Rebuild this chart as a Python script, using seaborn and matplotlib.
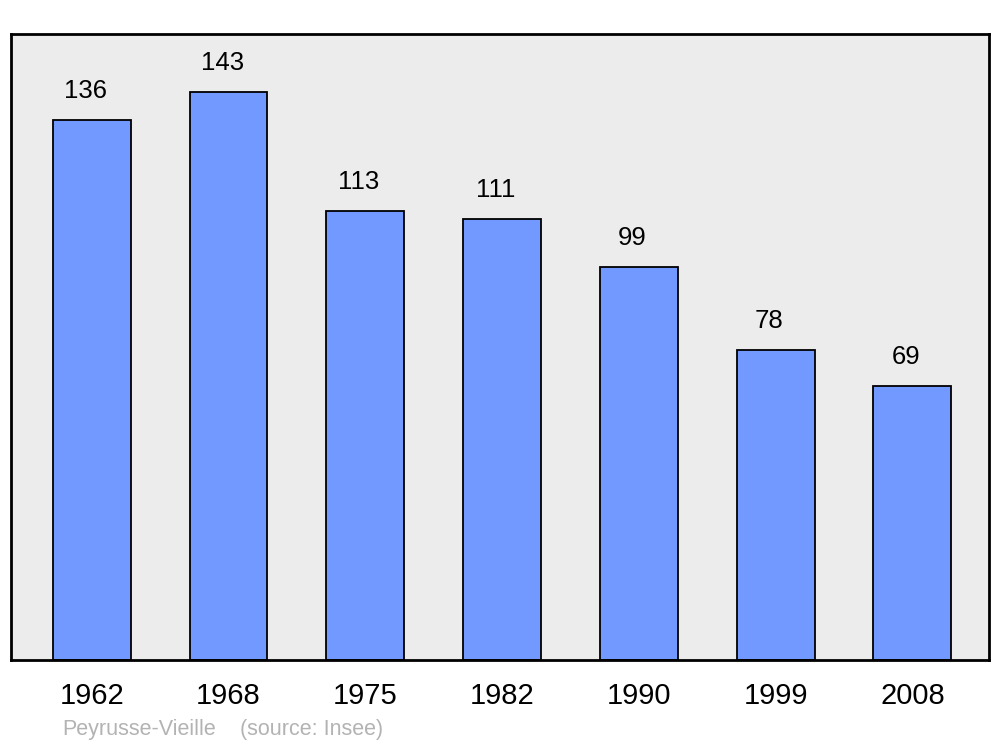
import matplotlib
matplotlib.use("Agg")
import matplotlib.pyplot as plt
import seaborn as sns
import pandas as pd

years = ["1962", "1968", "1975", "1982", "1990", "1999", "2008"]
population = [136, 143, 113, 111, 99, 78, 69]
place = "Peyrusse-Vieille"
source = "(source: Insee)"

sns.set_style("white")
plt.rcParams['font.family'] = ['Liberation Sans', 'DejaVu Sans']

df = pd.DataFrame({"year": years, "pop": population})

fig = plt.figure(figsize=(10, 7.47), dpi=100)
ax = fig.add_axes([0.011, 0.1165, 0.978, 0.838])
ax.set_facecolor("#ececec")

sns.barplot(data=df, x="year", y="pop", color="#7299ff", saturation=1,
            width=0.57, edgecolor="black", linewidth=1.3, ax=ax)

# value labels sit a little left of the bar centre, like the original
for bar, v in zip(ax.patches, population):
    ax.annotate(str(v), (bar.get_x() + bar.get_width() / 2, bar.get_height()),
                xytext=(-4.5, 12), textcoords="offset points",
                ha="center", va="bottom", fontsize=18.5, color="black")

ax.set_xlim(-0.59, 6.56)
ax.set_ylim(0, 157.6)
ax.set_xlabel("")
ax.set_ylabel("")
ax.set_yticks([])
ax.tick_params(axis="x", length=0, pad=16, labelsize=21, labelcolor="black")
for s in ax.spines.values():
    s.set_visible(True)
    s.set_color("black")
    s.set_linewidth(2)

fig.text(0.062, 0.016, place, fontsize=15.5, color="#b3b3b3")
fig.text(0.240, 0.016, source, fontsize=15.5, color="#b3b3b3")

fig.savefig("out.png", dpi=100)
